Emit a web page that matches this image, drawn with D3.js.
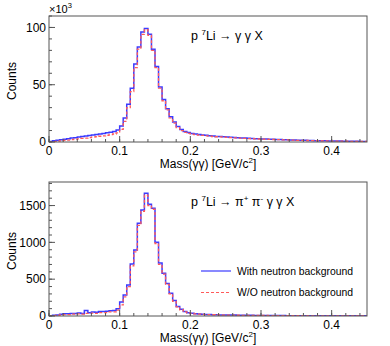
<!DOCTYPE html>
<html><head><meta charset="utf-8">
<script src="https://cdn.jsdelivr.net/npm/d3@7"></script>
<style>
html,body{margin:0;padding:0;background:#fff;}
svg text{font-family:"Liberation Sans",Arial,sans-serif;fill:#000;}
</style></head>
<body><svg id="c" width="390" height="346"></svg>
<script>
// ---- data ----
const binWidth = 0.005;
const xDomain = [0, 0.45];
const xTicks = [0, 0.1, 0.2, 0.3, 0.4];
// top panel (x10^3 counts)
const topWith = [0.5,1.0,1.5,2.0,2.5,2.9,3.4,3.8,4.3,4.8,5.2,5.7,6.1,6.6,7.0,7.5,8.0,8.5,9.2,10.5,
 14,21,33,47,68,83,96,99,94,81,66,48,37,29,22,17.5,13.5,11,9.2,8.2,
 7.4,6.9,6.5,6.1,5.8,5.5,5.2,4.9,4.7,4.5,4.3,4.1,3.9,3.7,3.5,3.4,3.2,3.1,2.9,2.8,
 2.7,2.55,2.4,2.3,2.2,2.1,2.0,1.9,1.8,1.7,1.6,1.5,1.45,1.35,1.3,1.2,1.15,1.1,1.0,0.95,
 0.9,0.85,0.8,0.75,0.7,0.65,0.6,0.55,0.5,0.5];
const topWithout = [0.1,0.4,0.7,1.0,1.4,1.7,2.1,2.4,2.8,3.1,3.4,3.8,4.2,4.6,5.0,5.4,5.9,6.4,7.0,8.0,
 11,18,30,44,65,81,94,98,93,80,65,47,36,28,21,16.5,12.5,10,8.4,7.5,
 6.8,6.4,6.0,5.7,5.4,5.1,4.8,4.6,4.4,4.2,4.0,3.8,3.6,3.45,3.3,3.15,3.0,2.9,2.75,2.6,
 2.5,2.4,2.3,2.2,2.1,2.0,1.9,1.8,1.7,1.6,1.5,1.45,1.4,1.3,1.25,1.15,1.1,1.05,0.95,0.9,
 0.85,0.8,0.75,0.7,0.65,0.6,0.55,0.5,0.5,0.45];
const topYMax = 110;
const topYTicks = [0, 50, 100];
const topYMinor = 10;
// bottom panel (counts)
const botWith = [5,10,15,25,30,30,35,35,40,35,75,45,55,50,60,60,65,70,75,100,190,
 285,421,707,897,1260,1440,1667,1518,1463,1000,720,580,440,310,210,130,90,60,
 45,38,32,28,25,22,20,18,17,15,14,13,12,12,11,10,10,9,9,8,8,
 8,7,7,7,6,6,6,5,5,5,5,4,4,4,4,4,3,3,3,3,3,3,2,2,2,2,2,2,2,2];
const botWithout = [0,5,10,15,20,20,25,25,30,25,35,35,40,35,45,45,45,55,55,80,150,
 260,400,680,870,1230,1420,1640,1500,1450,985,700,570,430,300,200,125,85,55,
 42,35,30,26,23,20,18,17,15,14,13,12,11,11,10,9,9,8,8,7,7,
 7,7,6,6,6,5,5,5,5,4,4,4,4,3,3,3,3,3,3,2,2,2,2,2,2,2,2,1,1,1];
const botYMax = 1820;
const botYTicks = [0, 500, 1000, 1500];
const botYMinor = 100;
const seriesNames = ["With neutron background", "W/O neutron background"];
// title pieces: [text, superscript?]
const titles = [
  [["p ", false], ["7", true], ["Li → γ γ X", false]],
  [["p ", false], ["7", true], ["Li → π", false], ["+", true], [" π", false], ["-", true], [" γ γ X", false]]
];

// ---- drawing ----
const svg = d3.select("#c");
const L = 49, R = 367;
const x = d3.scaleLinear().domain(xDomain).range([L, R]);
const blue = "#3b3bff", red = "#ff5a5a", frameCol = "#555";

function panel(top, bottom, ymax, yTicks, yMinor, sWith, sWithout, title, idx, showMult) {
  const y = d3.scaleLinear().domain([0, ymax]).range([bottom, top]);
  const g = svg.append("g");
  const clipId = "clip" + idx;
  g.append("clipPath").attr("id", clipId).append("rect")
    .attr("x", L).attr("y", top).attr("width", R - L).attr("height", bottom - top);

  const line = d3.line().x(d => x(d[0])).y(d => y(d[1])).curve(d3.curveStepAfter);
  const pts = s => { const p = s.map((v, i) => [i * binWidth, v]); p.push([s.length * binWidth, s[s.length - 1]]); return p; };

  g.append("path").attr("d", line(pts(sWith))).attr("fill", "none")
    .attr("stroke", blue).attr("stroke-width", 1.5).attr("clip-path", `url(#${clipId})`);
  g.append("path").attr("d", line(pts(sWithout))).attr("fill", "none")
    .attr("stroke", red).attr("stroke-width", 1.3).attr("stroke-dasharray", "3,2")
    .attr("clip-path", `url(#${clipId})`);

  // frame
  g.append("rect").attr("x", L).attr("y", top).attr("width", R - L).attr("height", bottom - top)
    .attr("fill", "none").attr("stroke", frameCol).attr("stroke-width", 1);

  // x ticks
  const xMinor = d3.range(0, xDomain[1] + 1e-9, 0.02);
  g.selectAll(null).data(xMinor).enter().append("line")
    .attr("x1", d => x(d)).attr("x2", d => x(d)).attr("y1", bottom).attr("y2", bottom - 3)
    .attr("stroke", frameCol);
  g.selectAll(null).data(xTicks).enter().append("line")
    .attr("x1", d => x(d)).attr("x2", d => x(d)).attr("y1", bottom).attr("y2", bottom - 6)
    .attr("stroke", frameCol);
  g.selectAll(null).data(xTicks).enter().append("text")
    .attr("x", d => x(d)).attr("y", bottom + 13).attr("text-anchor", "middle")
    .attr("font-size", 12).text(d => d === 0 ? "0" : d3.format(".1f")(d));

  // y ticks
  const yMin = d3.range(0, ymax + 1e-9, yMinor);
  g.selectAll(null).data(yMin).enter().append("line")
    .attr("x1", L).attr("x2", L + 3).attr("y1", d => y(d)).attr("y2", d => y(d))
    .attr("stroke", frameCol);
  g.selectAll(null).data(yTicks).enter().append("line")
    .attr("x1", L).attr("x2", L + 6).attr("y1", d => y(d)).attr("y2", d => y(d))
    .attr("stroke", frameCol);
  g.selectAll(null).data(yTicks).enter().append("text")
    .attr("x", L - 3).attr("y", d => y(d) + 4.3).attr("text-anchor", "end")
    .attr("font-size", 12).text(d => d);

  // axis titles
  g.append("text").attr("transform", `translate(16,${(top + bottom) / 2 + 2}) rotate(-90)`)
    .attr("text-anchor", "middle").attr("font-size", 12).text("Counts");
  const xt = g.append("text").attr("x", (L + R) / 2).attr("y", bottom + 26)
    .attr("text-anchor", "middle").attr("font-size", 12);
  xt.append("tspan").text("Mass(γγ) [GeV/c");
  xt.append("tspan").attr("font-size", 8).attr("dy", -5).text("2");
  xt.append("tspan").attr("dy", 5).text("]");

  // title
  const tt = g.append("text").attr("x", 191).attr("y", top + 24).attr("font-size", 12.5);
  let up = false;
  title.forEach(([s, sup]) => {
    const ts = tt.append("tspan").text(s);
    if (sup && !up) { ts.attr("font-size", 8).attr("dy", -5); up = true; }
    else if (!sup && up) { ts.attr("dy", 5); up = false; }
  });

  if (showMult) {
    const m = g.append("text").attr("x", L).attr("y", top - 3).attr("font-size", 11);
    m.append("tspan").text("×10");
    m.append("tspan").attr("font-size", 7.5).attr("dy", -5).text("3");
  }
  return y;
}

panel(16, 142, topYMax, topYTicks, topYMinor, topWith, topWithout, titles[0], 0, true);
panel(182, 316, botYMax, botYTicks, botYMinor, botWith, botWithout, titles[1], 1, false);

// legend (bottom panel)
const leg = svg.append("g");
const legY = [271, 292.5];
leg.append("line").attr("x1", 201).attr("x2", 231).attr("y1", legY[0]).attr("y2", legY[0])
  .attr("stroke", blue).attr("stroke-width", 1.2);
leg.append("line").attr("x1", 201).attr("x2", 231).attr("y1", legY[1]).attr("y2", legY[1])
  .attr("stroke", red).attr("stroke-width", 1.2).attr("stroke-dasharray", "3,2");
seriesNames.forEach((n, i) => {
  leg.append("text").attr("x", 237).attr("y", legY[i] + 3.8).attr("font-size", 10.4).text(n);
});
</script></body></html>
